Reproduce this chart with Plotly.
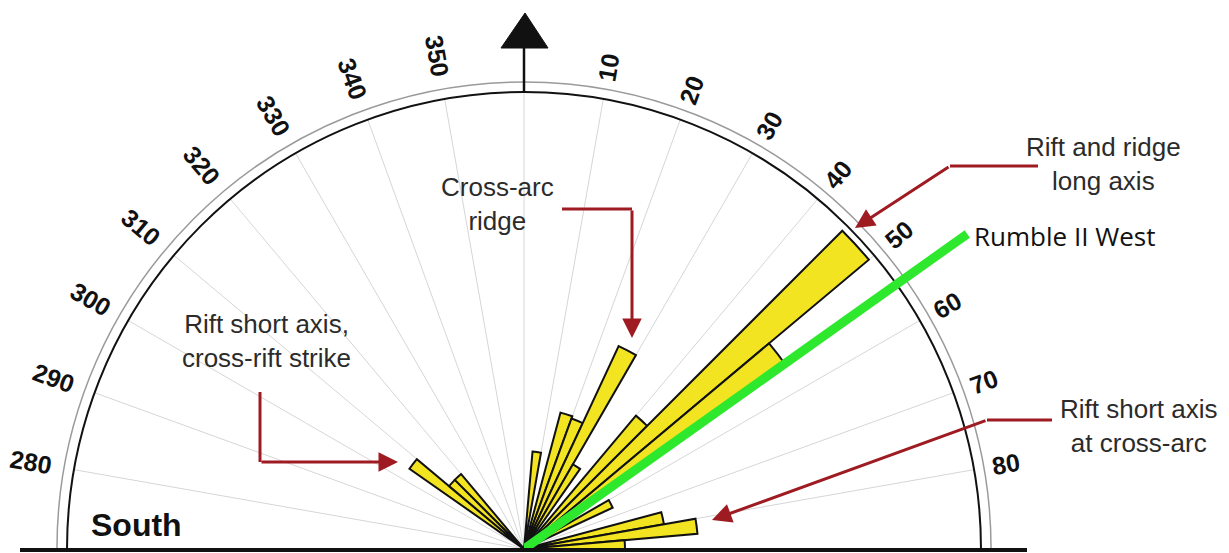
import math
import plotly.graph_objects as go

# ---------------- data ----------------
# strike bins (compass degrees, bin centre) and bar length (outer circle = 100)
bin_theta = [307.5, 312.5, 317.5, 7.5, 17.5, 22.5, 27.5, 32.5, 42.5, 47.5, 52.5, 62.5, 77.5, 82.5, 87.5]
bin_r = [30.6, 21.4, 21.4, 21.4, 30.9, 30.4, 49.0, 21.4, 38.1, 98.5, 70.0, 21.4, 31.1, 38.1, 22.1]
bin_width = 5

tick_vals = [280, 290, 300, 310, 320, 330, 340, 350, 10, 20, 30, 40, 50, 60, 70, 80]
tick_text = [str(v) for v in tick_vals]

rumble_theta = 54.6      # Rumble II West strike
rumble_len = 119         # drawn beyond the outer circle

annot_texts = ["Rift and ridge<br>long axis", "Cross-arc<br>ridge",
               "Rift short axis,<br>cross-rift strike", "Rift short axis<br>at cross-arc"]

# ---------------- layout geometry ----------------
W, H = 1229, 553
CX, CY, RPX = 524, 549, 457          # centre and outer radius in pixels
RMAX = 100
RING = 102.2                         # grey outer ring (same units)
R3 = 548                             # pixel radius of the helper quadrant for the long green line


def pix(theta_deg, r):
    a = math.radians(theta_deg)
    return CX + r / RMAX * RPX * math.sin(a), CY - r / RMAX * RPX * math.cos(a)


def half_domain(rpx):
    return dict(x=[(CX - rpx) / W, (CX + rpx) / W], y=[(H - CY) / H, (H - CY + rpx) / H])


fig = go.Figure()

# hidden pixel-space cartesian axes for decorations
fig.add_trace(go.Scatter(x=[0, W], y=[0, H], mode="markers", marker=dict(opacity=0),
                         hoverinfo="skip", showlegend=False))

fig.add_trace(go.Barpolar(theta=bin_theta, r=bin_r, width=[bin_width] * len(bin_r),
                          marker=dict(color="#f2e420", line=dict(color="#111111", width=2)),
                          hoverinfo="skip", showlegend=False, subplot="polar"))

# helper polar for the grey ring (its outer edge)
fig.add_trace(go.Scatterpolar(theta=[0], r=[0], mode="markers", marker=dict(size=1, opacity=0),
                              hoverinfo="skip", showlegend=False, subplot="polar2"))

# helper quadrant polar for the long green line
fig.add_trace(go.Scatterpolar(theta=[rumble_theta, rumble_theta], r=[0, rumble_len], mode="lines",
                              line=dict(color="#2ee82e", width=9),
                              hoverinfo="skip", showlegend=False, subplot="polar3"))

ang_common = dict(rotation=90, direction="clockwise", showticklabels=False, ticks="")
fig.update_layout(
    width=W, height=H, margin=dict(l=0, r=0, t=0, b=0),
    paper_bgcolor="white", plot_bgcolor="white", showlegend=False,
    xaxis=dict(range=[0, W], visible=False, domain=[0, 1], fixedrange=True),
    yaxis=dict(range=[H, 0], visible=False, domain=[0, 1], fixedrange=True),
    polar=dict(
        domain=half_domain(RPX), sector=[0, 180], bgcolor="rgba(0,0,0,0)",
        radialaxis=dict(range=[0, RMAX], visible=False, showgrid=False),
        angularaxis=dict(**ang_common, dtick=10, showgrid=True, gridcolor="#d6d6d6", gridwidth=1,
                         showline=True, linecolor="#111111", linewidth=2),
    ),
    polar2=dict(
        domain=half_domain(RPX * RING / RMAX), sector=[0, 180], bgcolor="rgba(0,0,0,0)",
        radialaxis=dict(range=[0, RING], visible=False, showgrid=False),
        angularaxis=dict(**ang_common, showgrid=False, showline=True, linecolor="#9a9a9a", linewidth=1.5),
    ),
    polar3=dict(
        domain=dict(x=[CX / W, (CX + R3) / W], y=[(H - CY) / H, (H - CY + R3) / H]),
        sector=[0, 90], bgcolor="rgba(0,0,0,0)",
        radialaxis=dict(range=[0, RMAX * R3 / RPX], visible=False, showgrid=False),
        angularaxis=dict(**ang_common, showgrid=False, showline=False),
    ),
)

shapes = []
# bottom baseline
shapes.append(dict(type="line", xref="x", yref="y", x0=20, x1=1027, y0=CY + 1, y1=CY + 1,
                   line=dict(color="#111111", width=4), layer="above"))
# north arrow
shapes.append(dict(type="line", xref="x", yref="y", x0=CX, x1=CX, y0=CY - RPX, y1=47,
                   line=dict(color="#111111", width=2.5), layer="above"))
shapes.append(dict(type="path", xref="x", yref="y",
                   path=f"M {CX-23} 48 L {CX+24} 48 L {CX+1} 13 Z",
                   fillcolor="#111111", line=dict(color="#111111", width=1), layer="above"))

RED = "#9e1b22"
# arrow elbows (pixel polylines, final segment drawn by annotation arrows)
elbows = [
    [(1038, 166), (950, 166)],
    [(562, 209), (632, 209)],
    [(260, 392), (260, 462)],
    [(1052, 420), (987, 420)],
]
heads = [(855, 228), (632, 338), (398, 462), (712, 520)]
for pts in elbows:
    (x0, y0), (x1, y1) = pts
    shapes.append(dict(type="line", xref="x", yref="y", x0=x0, y0=y0, x1=x1, y1=y1,
                       line=dict(color=RED, width=3), layer="above"))
fig.update_layout(shapes=shapes)

annotations = []
for (pts, (hx, hy)) in zip(elbows, heads):
    tx, ty = pts[1]
    annotations.append(dict(xref="x", yref="y", x=hx, y=hy, ax=tx, ay=ty, axref="x", ayref="y",
                            text="", showarrow=True, arrowhead=2, arrowsize=1.3, arrowwidth=3,
                            arrowcolor=RED, standoff=0))

# compass tick labels, oriented radially
for v, t in zip(tick_vals, tick_text):
    th = v if v < 180 else v - 360
    rl = 109.5 if len(t) == 3 else 107
    x, y = pix(th, rl)
    ang = th + 90 if th < 0 else th - 90
    annotations.append(dict(xref="x", yref="y", x=x, y=y, text=f"<b>{t}</b>", showarrow=False,
                            textangle=ang, font=dict(family="Liberation Sans", size=25, color="#111111"),
                            xanchor="center", yanchor="middle"))

label_font = dict(family="Liberation Sans", size=26, color="#2b2b2b")
annot_pos = [(1103, 164), (497, 204), (266, 341), (1139, 426)]
for txt, (x, y) in zip(annot_texts, annot_pos):
    annotations.append(dict(xref="x", yref="y", x=x, y=y, text=txt, showarrow=False,
                            font=label_font, xanchor="center", yanchor="middle", align="center"))

ex, ey = pix(rumble_theta, rumble_len)
annotations.append(dict(xref="x", yref="y", x=ex + 5, y=ey + 2, text="Rumble II West", showarrow=False,
                        font=dict(family="Open Sans", size=26, color="#111111"), xanchor="left", yanchor="middle"))

annotations.append(dict(xref="x", yref="y", x=136, y=525, text="<b>South</b>", showarrow=False,
                        font=dict(family="Liberation Sans", size=32, color="#111111"),
                        xanchor="center", yanchor="middle"))

fig.update_layout(annotations=annotations)
fig.write_html("out.html", config={"displayModeBar": False, "staticPlot": True},
               post_script="document.body.style.margin='0px';")
